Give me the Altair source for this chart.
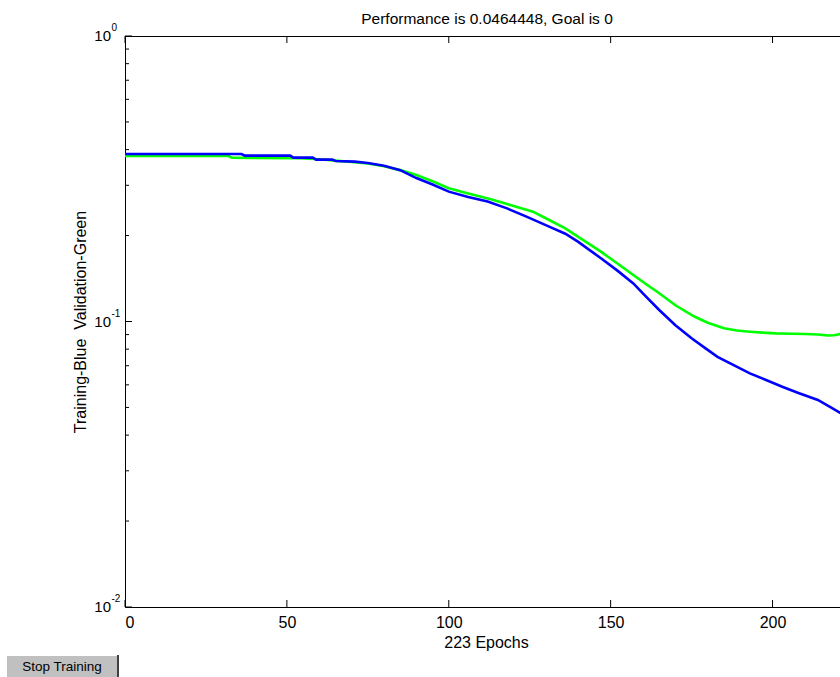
import altair as alt
import pandas as pd

# ---- data ----
train_epochs = [0, 36, 37, 51, 52, 58, 59, 64, 65, 71, 75, 80, 85, 90, 95, 100, 106, 112, 118, 124,
                131, 136, 140, 147, 152, 157, 161, 165, 170, 175, 179, 183, 188, 193, 198, 203, 208,
                214, 218, 223]
train_perf = [0.386, 0.386, 0.381, 0.381, 0.375, 0.375, 0.369, 0.369, 0.365, 0.363, 0.359, 0.351,
              0.339, 0.318, 0.302, 0.285, 0.273, 0.263, 0.249, 0.233, 0.215, 0.203, 0.190, 0.1665,
              0.151, 0.136, 0.122, 0.1097, 0.097, 0.0873, 0.0810, 0.0752, 0.0703, 0.0658, 0.0624,
              0.0591, 0.0562, 0.0531, 0.0500, 0.0464448]

val_epochs = [0, 32, 33, 54, 60, 65, 70, 75, 80, 85, 90, 95, 100, 106, 113, 119, 126, 131, 136, 140,
              147, 152, 157, 161, 165, 170, 176, 180, 185, 189, 193, 197, 201, 206, 210, 214, 217,
              219, 221, 223]
val_perf = [0.380, 0.380, 0.375, 0.373, 0.370, 0.366, 0.362, 0.3575, 0.350, 0.339, 0.326, 0.310,
            0.293, 0.281, 0.268, 0.256, 0.2424, 0.2267, 0.212, 0.198, 0.1756, 0.160, 0.1455, 0.135,
            0.1256, 0.114, 0.1039, 0.0990, 0.0947, 0.0930, 0.0921, 0.0914, 0.0909, 0.0906, 0.0904,
            0.0900, 0.0893, 0.0895, 0.0904, 0.0912]

x_ticks = [0, 50, 100, 150, 200]
y_major = [1.0, 0.1, 0.01]
y_exponents = ["0", "-1", "-2"]
y_minor = [0.02, 0.03, 0.04, 0.05, 0.06, 0.07, 0.08, 0.09,
           0.2, 0.3, 0.4, 0.5, 0.6, 0.7, 0.8, 0.9]

title_text = "Performance is 0.0464448, Goal is 0"
x_title = "223 Epochs"
y_title = "Training-Blue\u00a0 Validation-Green"
button_label = "Stop Training"

FONT = "Liberation Sans"
N_EPOCHS = 223
PLOT_W = 715      # visible part of the plot area (window is cut at the right)
FULL_W = 722      # full axis length for 0..223
PLOT_H = 571

xs = alt.Scale(domain=[0, N_EPOCHS], range=[0, FULL_W], nice=False, zero=False)
ys = alt.Scale(type="log", domain=[0.01, 1.0], nice=False)

train_df = pd.DataFrame({"epoch": train_epochs, "perf": train_perf})
val_df = pd.DataFrame({"epoch": val_epochs, "perf": val_perf})
xt_df = pd.DataFrame({"t": x_ticks})
ymaj_df = pd.DataFrame({"v": y_major, "e": y_exponents, "b": ["10"] * len(y_major)})
ymin_df = pd.DataFrame({"v": y_minor})
btn_df = pd.DataFrame({"label": [button_label]})
title_df = pd.DataFrame({"label": [title_text]})

x_axis = alt.Axis(values=x_ticks, ticks=False, grid=False, domainColor="black", domainWidth=1,
                  labelFont=FONT, labelFontSize=16, labelColor="black", labelPadding=7,
                  title=x_title, titleFont=FONT, titleFontSize=16, titleFontWeight="normal",
                  titleColor="black", titlePadding=4)
y_axis = alt.Axis(labels=False, ticks=False, grid=False, domainColor="black", domainWidth=1,
                  title=y_title, titleFont=FONT, titleFontSize=16, titleFontWeight="normal",
                  titleColor="black", titleX=-40, titleY=PLOT_H / 2, titleAngle=270,
                  titleAlign="center", titleBaseline="alphabetic")

val_line = alt.Chart(val_df).mark_line(color="#00ff00", strokeWidth=2.6, clip=True).encode(
    x=alt.X("epoch:Q", scale=xs, axis=x_axis),
    y=alt.Y("perf:Q", scale=ys, axis=y_axis),
)
train_line = alt.Chart(train_df).mark_line(color="#0000ff", strokeWidth=2.6, clip=True).encode(
    x=alt.X("epoch:Q", scale=xs),
    y=alt.Y("perf:Q", scale=ys),
)

top_border = alt.Chart(btn_df).mark_rule(color="black", strokeWidth=1).encode(
    x=alt.value(0), x2=alt.value(PLOT_W), y=alt.value(0.5))

xt_bottom = alt.Chart(xt_df).mark_rule(color="black", strokeWidth=1).encode(
    x=alt.X("t:Q", scale=xs), y=alt.value(PLOT_H), y2=alt.value(PLOT_H - 7))
xt_top = alt.Chart(xt_df).mark_rule(color="black", strokeWidth=1).encode(
    x=alt.X("t:Q", scale=xs), y=alt.value(0), y2=alt.value(7))
ymaj_ticks = alt.Chart(ymaj_df).mark_rule(color="black", strokeWidth=1).encode(
    y=alt.Y("v:Q", scale=ys), x=alt.value(0), x2=alt.value(7))
ymin_ticks = alt.Chart(ymin_df).mark_rule(color="black", strokeWidth=1).encode(
    y=alt.Y("v:Q", scale=ys), x=alt.value(0), x2=alt.value(4))

ylab_base = alt.Chart(ymaj_df).mark_text(font=FONT, fontSize=15, color="black", align="right",
                                         baseline="middle").encode(
    y=alt.Y("v:Q", scale=ys), x=alt.value(-14), text="b:N")
ylab_exp = alt.Chart(ymaj_df).mark_text(font=FONT, fontSize=10, color="black", align="left",
                                        baseline="middle", dy=-8).encode(
    y=alt.Y("v:Q", scale=ys), x=alt.value(-13.5), text="e:N")

title_mark = alt.Chart(title_df).mark_text(font=FONT, fontSize=15.5, color="black",
                                           align="center", baseline="alphabetic").encode(
    x=alt.value(362), y=alt.value(-12), text="label:N")

# "Stop Training" button below the axes
btn_face = alt.Chart(btn_df).mark_rect(color="#c0c0c0").encode(
    x=alt.value(-118), x2=alt.value(-7), y=alt.value(619), y2=alt.value(641))
btn_hi = alt.Chart(btn_df).mark_rule(color="#ffffff", strokeWidth=1).encode(
    x=alt.value(-118), x2=alt.value(-7), y=alt.value(619.5))
btn_shadow = alt.Chart(btn_df).mark_rule(color="#404040", strokeWidth=2).encode(
    x=alt.value(-7), y=alt.value(619), y2=alt.value(641))
btn_text = alt.Chart(btn_df).mark_text(font=FONT, fontSize=13.5, color="black", align="center",
                                       baseline="middle").encode(
    x=alt.value(-63), y=alt.value(631), text="label:N")

chart = alt.layer(
    val_line, train_line, top_border, xt_bottom, xt_top, ymaj_ticks, ymin_ticks,
    ylab_base, ylab_exp, title_mark, btn_face, btn_hi, btn_shadow, btn_text,
).properties(
    width=PLOT_W, height=PLOT_H,
    autosize=alt.AutoSizeParams(type="none"),
    padding={"left": 125, "top": 36, "right": 0, "bottom": 70},
    background="white",
).configure_view(strokeWidth=0)

chart.save("out.html", embed_options={"renderer": "svg", "actions": False})
